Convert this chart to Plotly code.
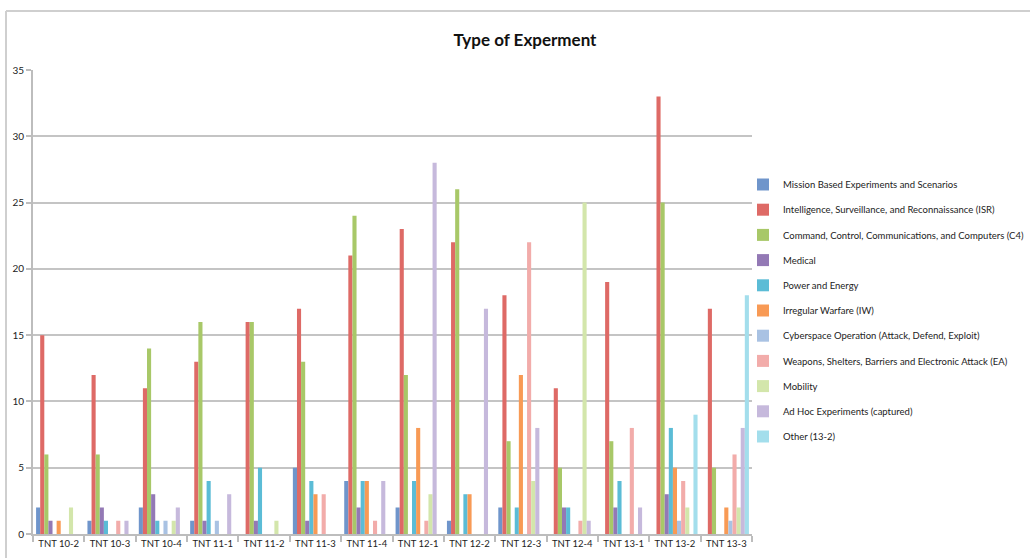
import plotly.graph_objects as go

categories = ["TNT 10-2", "TNT 10-3", "TNT 10-4", "TNT 11-1", "TNT 11-2", "TNT 11-3", "TNT 11-4",
              "TNT 12-1", "TNT 12-2", "TNT 12-3", "TNT 12-4", "TNT 13-1", "TNT 13-2", "TNT 13-3"]

series_names = [
    "Mission Based Experiments and Scenarios",
    "Intelligence, Surveillance, and Reconnaissance (ISR)",
    "Command, Control, Communications, and Computers (C4)",
    "Medical",
    "Power and Energy",
    "Irregular Warfare (IW)",
    "Cyberspace Operation (Attack, Defend, Exploit)",
    "Weapons, Shelters, Barriers and Electronic Attack (EA)",
    "Mobility",
    "Ad Hoc Experiments (captured)",
    "Other (13-2)",
]

mission  = [2, 1, 2, 1, 0, 5, 4, 2, 1, 2, 0, 0, 0, 0]
isr      = [15, 12, 11, 13, 16, 17, 21, 23, 22, 18, 11, 19, 33, 17]
c4       = [6, 6, 14, 16, 16, 13, 24, 12, 26, 7, 5, 7, 25, 5]
medical  = [1, 2, 3, 1, 1, 1, 2, 0, 0, 0, 2, 2, 3, 0]
power    = [0, 1, 1, 4, 5, 4, 4, 4, 3, 2, 2, 4, 8, 0]
irregular = [1, 0, 0, 0, 0, 3, 4, 8, 3, 12, 0, 0, 5, 2]
cyber    = [0, 0, 1, 1, 0, 0, 0, 0, 0, 0, 0, 0, 1, 1]
weapons  = [0, 1, 0, 0, 0, 3, 1, 1, 0, 22, 1, 8, 4, 6]
mobility = [2, 0, 1, 0, 1, 0, 0, 3, 0, 4, 25, 0, 2, 2]
adhoc    = [0, 1, 2, 3, 0, 0, 4, 28, 17, 8, 1, 2, 0, 8]
other    = [0, 0, 0, 0, 0, 0, 0, 0, 0, 0, 0, 0, 9, 18]

series_values = [mission, isr, c4, medical, power, irregular, cyber, weapons, mobility, adhoc, other]

colors = ["#6F95CB", "#DE6A66", "#A8C868", "#9379B5", "#5BBCD6", "#F89A55",
          "#A9C2E3", "#F2ACAA", "#D3E6AB", "#C6B9DC", "#A3DEEC"]

fig = go.Figure()
for i, (name, vals) in enumerate(zip(series_names, series_values)):
    fig.add_trace(go.Bar(
        x=categories, y=vals, name=name,
        marker=dict(color=colors[i], line=dict(width=0)),
        legendgroup=f"g{i}",
    ))

L, R, T, B = 33, 752, 70, 534
W, H = 1030, 558

def px_x(p):
    return (p - L) / (R - L)

def px_y(p):
    return (B - p) / (B - T)

fig.update_layout(
    width=W, height=H,
    margin=dict(l=L, r=W - R, t=T, b=H - B, pad=0, autoexpand=False),
    paper_bgcolor="white", plot_bgcolor="white",
    barmode="group", bargap=0.12, bargroupgap=0.0,
    font=dict(family="Lato, Open Sans, sans-serif", size=10, color="#222222"),
    title=dict(text="<b>Type of Experment</b>", x=525 / W, xanchor="center",
               y=1 - 40 / H, yanchor="middle",
               font=dict(size=17, color="#111111", family="Lato, sans-serif")),
    legend=dict(x=px_x(743), xanchor="left", y=px_y(170), yanchor="top",
                font=dict(size=9.5, color="#222222"), tracegroupgap=6.2,
                itemwidth=30, bgcolor="rgba(0,0,0,0)"),
    showlegend=True,
)

fig.update_yaxes(range=[0, 35], dtick=5, showgrid=True, gridcolor="#C4C4C4", gridwidth=2,
                 showline=True, linecolor="#BDBDBD", linewidth=2, ticks="outside",
                 ticklen=5, tickcolor="#BDBDBD", tickwidth=2, zeroline=False,
                 tickfont=dict(size=10), automargin=False)
fig.update_xaxes(showline=True, linecolor="#BDBDBD", linewidth=2, ticks="outside",
                 tickson="boundaries", ticklen=6, tickcolor="#BDBDBD", tickwidth=2,
                 showgrid=False, tickangle=0, tickfont=dict(size=9.5), automargin=False)

# outer chart frame (left and top edges)
fig.add_shape(type="line", xref="paper", yref="paper",
              x0=px_x(6), y0=px_y(558), x1=px_x(6), y1=px_y(11),
              line=dict(color="#CFCFCF", width=2))
fig.add_shape(type="line", xref="paper", yref="paper",
              x0=px_x(6), y0=px_y(11), x1=px_x(1030), y1=px_y(11),
              line=dict(color="#CFCFCF", width=2))

fig.write_html("out.html",
               config={"displayModeBar": False},
               post_script="document.body.style.margin='0';document.body.style.padding='0';"
                           "document.body.style.overflow='hidden';")
